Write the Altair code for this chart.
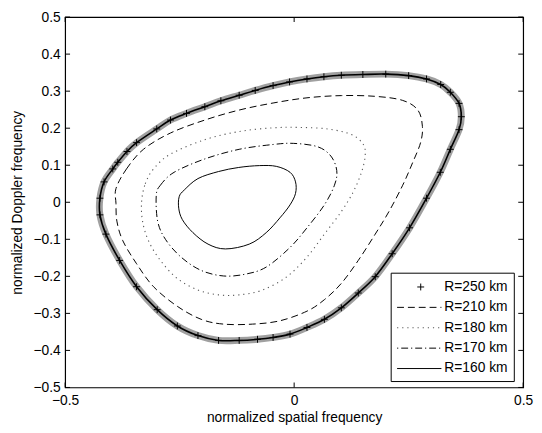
import altair as alt
import pandas as pd

# ---- data ----
R250_x = [-0.424, -0.415, -0.396, -0.385, -0.365, -0.344, -0.30, -0.27, -0.235, -0.195, -0.16, -0.12, -0.085,
          -0.046, -0.01, 0.028, 0.065, 0.103, 0.15, 0.2, 0.25, 0.289, 0.32, 0.341, 0.36, 0.365, 0.36, 0.341,
          0.319, 0.289, 0.252, 0.214, 0.177, 0.14, 0.103, 0.066, 0.028, -0.009, -0.046, -0.08, -0.12, -0.165,
          -0.21, -0.255, -0.299, -0.344, -0.381, -0.411, -0.424]
R250_y = [0.011, 0.055, 0.09, 0.108, 0.137, 0.161, 0.198, 0.222, 0.24, 0.258, 0.274, 0.289, 0.302,
          0.315, 0.325, 0.333, 0.339, 0.343, 0.345, 0.346, 0.342, 0.333, 0.318, 0.297, 0.267, 0.231, 0.196, 0.143,
          0.081, 0.011, -0.069, -0.139, -0.201, -0.245, -0.285, -0.316, -0.338, -0.356, -0.365, -0.37, -0.373, -0.373,
          -0.36, -0.334, -0.29, -0.228, -0.157, -0.086, -0.034]

R210_x = [-0.389, -0.366, -0.329, -0.27, -0.195, -0.12, -0.046, 0.028, 0.103, 0.177, 0.237, 0.27, 0.28, 0.276,
          0.259, 0.237, 0.207, 0.177, 0.14, 0.103, 0.066, 0.028, -0.031, -0.091, -0.154, -0.203, -0.255, -0.307,
          -0.344, -0.374, -0.387, -0.389]
R210_y = [0.037, 0.09, 0.143, 0.187, 0.222, 0.249, 0.268, 0.282, 0.288, 0.286, 0.275, 0.249, 0.205, 0.161,
          0.108, 0.046, -0.025, -0.086, -0.157, -0.219, -0.263, -0.294, -0.32, -0.329, -0.329, -0.316, -0.281, -0.228,
          -0.166, -0.104, -0.051, -0.003]

R180_x = [-0.333, -0.325, -0.307, -0.27, -0.195, -0.12, -0.046, 0.013, 0.073, 0.125, 0.151, 0.155, 0.147, 0.129,
          0.103, 0.066, 0.028, -0.016, -0.069, -0.12, -0.165, -0.21, -0.255, -0.292, -0.318, -0.331]
R180_y = [0.002, 0.05, 0.09, 0.13, 0.169, 0.191, 0.201, 0.202, 0.198, 0.183, 0.156, 0.125, 0.081, 0.028,
          -0.025, -0.086, -0.148, -0.201, -0.237, -0.25, -0.25, -0.237, -0.206, -0.157, -0.104, -0.051]

R170_x = [-0.301, -0.292, -0.262, -0.195, -0.12, -0.046, -0.001, 0.051, 0.08, 0.093, 0.088, 0.066, 0.028, -0.009,
          -0.061, -0.106, -0.154, -0.203, -0.247, -0.281, -0.298]
R170_y = [0.019, 0.046, 0.081, 0.117, 0.143, 0.156, 0.159, 0.15, 0.125, 0.086, 0.046, -0.007, -0.069, -0.122,
          -0.175, -0.194, -0.199, -0.184, -0.148, -0.1, -0.051]

R160_x = [-0.251, -0.24, -0.21, -0.165, -0.121, -0.076, -0.039, -0.009, 0.003, 0.003, -0.009, -0.031, -0.061,
          -0.098, -0.15, -0.188, -0.221, -0.244, -0.252]
R160_y = [0.015, 0.033, 0.064, 0.083, 0.094, 0.099, 0.097, 0.081, 0.055, 0.024, -0.007, -0.042, -0.082,
          -0.113, -0.126, -0.113, -0.082, -0.047, -0.016]

series_labels = ["R=250 km", "R=210 km", "R=180 km", "R=170 km", "R=160 km"]
x_ticks = [-0.5, 0.0, 0.5]
y_ticks = [-0.5, -0.4, -0.3, -0.2, -0.1, 0.0, 0.1, 0.2, 0.3, 0.4, 0.5]

# ---- styling / layout ----
W, H = 465, 376
FONT = "Liberation Sans"
PLUS = "M-1,0L1,0M0,-1L0,1"

xscale = alt.Scale(domain=[-0.5, 0.5], nice=False, zero=False)
yscale = alt.Scale(domain=[-0.5, 0.5], nice=False, zero=False)
xaxis = alt.Axis(values=x_ticks, format=".1~f", title="normalized spatial frequency",
                 ticks=False, domain=False, grid=False, labelFlush=False, labelOverlap=False,
                 labelPadding=6, titlePadding=4)
yaxis = alt.Axis(values=y_ticks, format=".1~f", title="normalized Doppler frequency",
                 ticks=False, domain=False, grid=False, labelFlush=False, labelOverlap=False,
                 labelPadding=5, titlePadding=9)


def XE():
    return alt.X("x:Q", scale=xscale, axis=xaxis)


def YE():
    return alt.Y("y:Q", scale=yscale, axis=yaxis)


def frame(xs, ys):
    return pd.DataFrame({"x": xs, "y": ys, "i": list(range(len(xs)))})


def curve(xs, ys, **style):
    return alt.Chart(frame(xs, ys)).mark_line(interpolate="cardinal-closed", clip=True, **style).encode(
        x=XE(), y=YE(), order="i:Q")


layers = []
# outer curve: dense "+" markers (rendered as a dark band with plus markers)
layers.append(curve(R250_x, R250_y, color="#606060", strokeWidth=7, opacity=0.6))
layers.append(curve(R250_x, R250_y, color="black", strokeWidth=1.6))
layers.append(alt.Chart(frame(R250_x, R250_y)).mark_point(shape=PLUS, size=49, filled=False, color="black",
                                                          strokeWidth=1, opacity=1).encode(x=XE(), y=YE()))
layers.append(curve(R210_x, R210_y, color="black", strokeWidth=1, strokeDash=[7, 4]))
layers.append(curve(R180_x, R180_y, color="#555555", strokeWidth=1.1, strokeDash=[1.2, 4]))
layers.append(curve(R170_x, R170_y, color="black", strokeWidth=1, strokeDash=[7, 3, 1.2, 3]))
layers.append(curve(R160_x, R160_y, color="black", strokeWidth=1))

# inward ticks (MATLAB style box axes)
yt = pd.DataFrame({"y": y_ticks})
xt = pd.DataFrame({"x": x_ticks})
layers.append(alt.Chart(yt).mark_rule(color="black", strokeWidth=1).encode(
    y=YE(), x=alt.value(0), x2=alt.value(5)))
layers.append(alt.Chart(yt).mark_rule(color="black", strokeWidth=1).encode(
    y=YE(), x=alt.value(W - 5), x2=alt.value(W)))
layers.append(alt.Chart(xt).mark_rule(color="black", strokeWidth=1).encode(
    x=XE(), y=alt.value(H - 5), y2=alt.value(H)))
layers.append(alt.Chart(xt).mark_rule(color="black", strokeWidth=1).encode(
    x=XE(), y=alt.value(0), y2=alt.value(5)))

# legend box
one = pd.DataFrame({"a": [0]})
LX0, LX1, LY0, LY1 = 331, 456, 260, 370
layers.append(alt.Chart(one).mark_rect(fill="white", stroke="black", strokeWidth=1).encode(
    x=alt.value(LX0), x2=alt.value(LX1), y=alt.value(LY0), y2=alt.value(LY1)))
entry_y = [274, 294.7, 315.4, 336.1, 356.8]
styles = [None,
          dict(color="black", strokeWidth=1, strokeDash=[7, 4]),
          dict(color="#555555", strokeWidth=1.1, strokeDash=[1.2, 4]),
          dict(color="black", strokeWidth=1, strokeDash=[1.2, 3, 7, 3]),
          dict(color="black", strokeWidth=1)]
for lab, ey, st in zip(series_labels, entry_y, styles):
    if st is None:
        layers.append(alt.Chart(one).mark_point(shape=PLUS, size=49, filled=False, color="black",
                                                strokeWidth=1, opacity=1).encode(
            x=alt.value(361), y=alt.value(ey)))
    else:
        layers.append(alt.Chart(one).mark_rule(**st).encode(
            x=alt.value(337), x2=alt.value(382), y=alt.value(ey)))
    layers.append(alt.Chart(pd.DataFrame({"t": [lab]})).mark_text(
        align="left", baseline="middle", font=FONT, fontSize=14, color="black").encode(
        x=alt.value(385), y=alt.value(ey), text="t:N"))

chart = alt.layer(*layers).properties(
    width=W, height=H,
    autosize=alt.AutoSizeParams(type="none"),
    padding={"left": 58, "top": 6, "right": 11, "bottom": 42},
    background="white",
).configure_view(stroke="black", strokeWidth=1.2).configure_axis(
    labelFont=FONT, labelFontSize=14, labelColor="black",
    titleFont=FONT, titleFontSize=14, titleFontWeight="normal", titleColor="black",
)

chart.save("out.html", embed_options={"renderer": "svg", "actions": False})
